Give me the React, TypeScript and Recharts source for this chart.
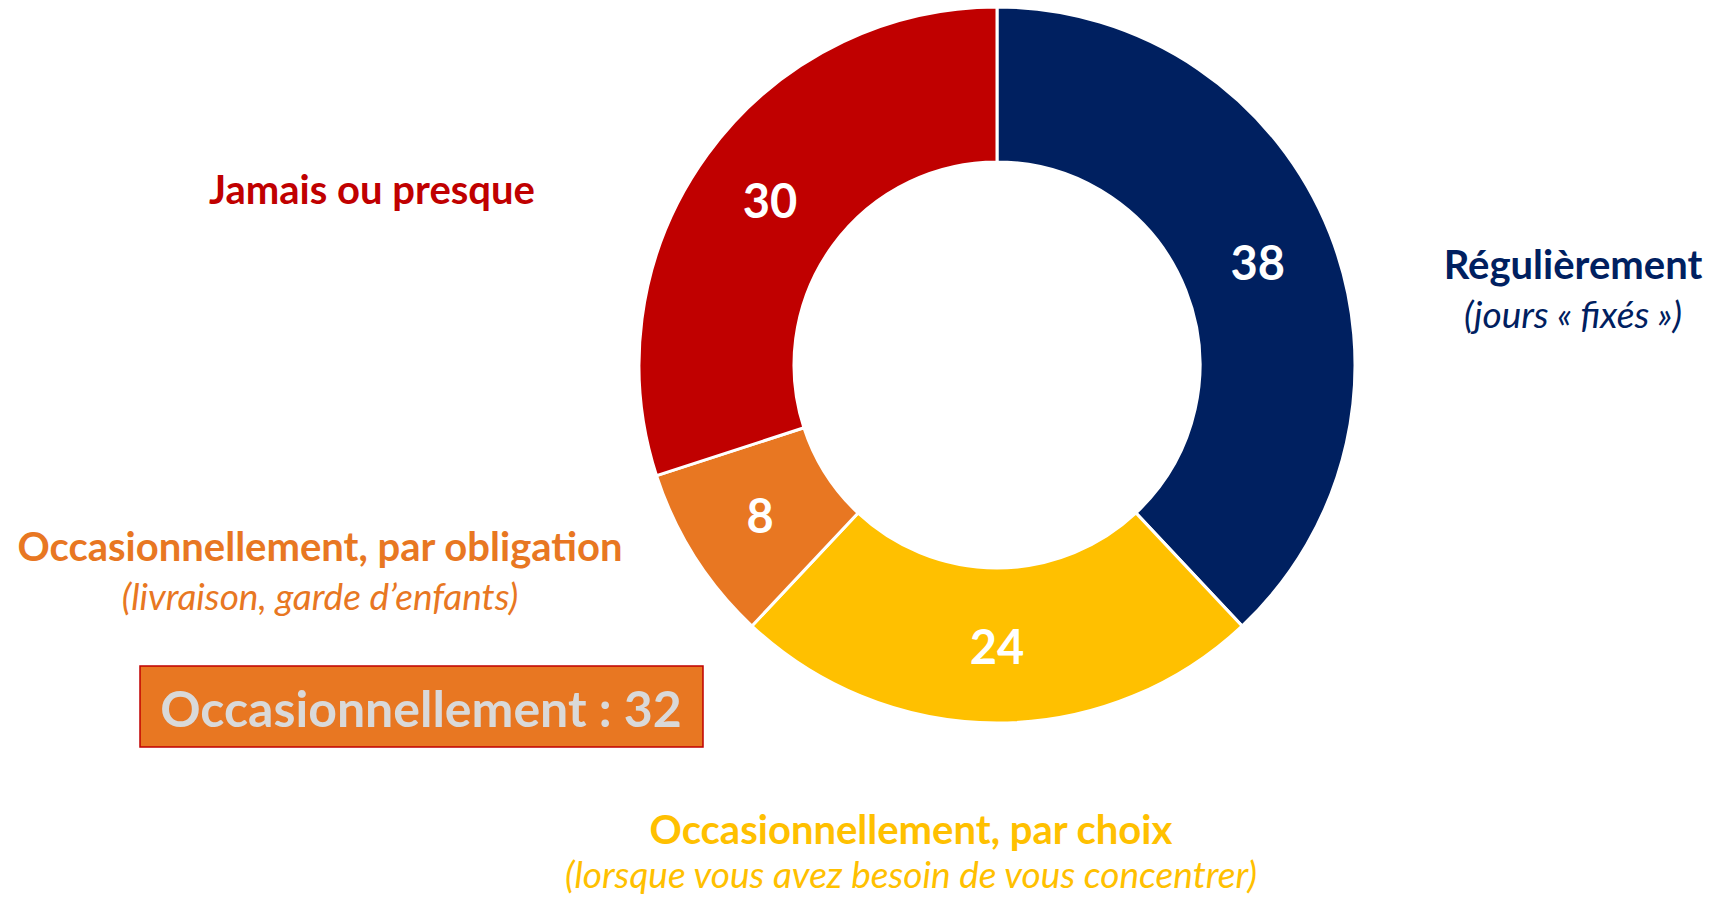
import React from "react";
import { PieChart, Pie, Cell } from "recharts";

const categories = [
  "Régulièrement",
  "Occasionnellement, par choix",
  "Occasionnellement, par obligation",
  "Jamais ou presque",
];
const subtitles = [
  "(jours « fixés »)",
  "(lorsque vous avez besoin de vous concentrer)",
  "(livraison, garde d’enfants)",
  "",
];
const values = [38, 24, 8, 30];
const colors = ["#002060", "#FFC000", "#E87722", "#C00000"];
const summaryLabel = "Occasionnellement : 32";

const data = categories.map((name, i) => ({ name, value: values[i] }));

const FONT = "Lato, 'Open Sans', sans-serif";
const RADIAN = Math.PI / 180;

const renderLabel = (props: any) => {
  const { cx, cy, midAngle, innerRadius, outerRadius, value } = props;
  const r = (innerRadius + outerRadius) / 2;
  const x = cx + r * Math.cos(-midAngle * RADIAN);
  const y = cy + r * Math.sin(-midAngle * RADIAN);
  return (
    <text
      x={x}
      y={y}
      fill="#FFFFFF"
      textAnchor="middle"
      dominantBaseline="central"
      fontFamily={FONT}
      fontWeight={700}
      fontSize={47}
    >
      {value}
    </text>
  );
};

const outerLabels = [
  { x: 1573, y: 264, y2: 313 },
  { x: 911, y: 829, y2: 873 },
  { x: 320, y: 546, y2: 595 },
  { x: 372, y: 189, y2: 0 },
];

export default function App() {
  return (
    <div style={{ position: "absolute", left: 0, top: 0, width: 1711, height: 897, background: "#fff" }}>
      <PieChart width={1711} height={897}>
        <Pie
          data={data}
          dataKey="value"
          nameKey="name"
          cx={992}
          cy={360}
          innerRadius={203}
          outerRadius={358}
          startAngle={90}
          endAngle={-270}
          stroke="#FFFFFF"
          strokeWidth={3}
          label={renderLabel}
          labelLine={false}
          isAnimationActive={false}
        >
          {data.map((d, i) => (
            <Cell key={d.name} fill={colors[i]} />
          ))}
        </Pie>
      </PieChart>
      <svg
        width={1711}
        height={897}
        style={{ position: "absolute", left: 0, top: 0, pointerEvents: "none" }}
      >
        {outerLabels.map((p, i) => (
          <g key={categories[i]}>
            <text
              x={p.x}
              y={p.y}
              textAnchor="middle"
              dominantBaseline="central"
              fontFamily={FONT}
              fontWeight={700}
              fontSize={40}
              fill={colors[i]}
            >
              {categories[i]}
            </text>
            {subtitles[i] ? (
              <text
                x={p.x}
                y={p.y2}
                textAnchor="middle"
                dominantBaseline="central"
                fontFamily={FONT}
                fontStyle="italic"
                fontSize={37}
                fill={colors[i]}
              >
                {subtitles[i]}
              </text>
            ) : null}
          </g>
        ))}
        <rect x={140} y={666} width={563} height={81} fill="#E87722" stroke="#C00000" strokeWidth={1.5} />
        <text
          x={421}
          y={708}
          textAnchor="middle"
          dominantBaseline="central"
          fontFamily={FONT}
          fontWeight={700}
          fontSize={50}
          fill="#D9D9D9"
        >
          {summaryLabel}
        </text>
      </svg>
    </div>
  );
}
